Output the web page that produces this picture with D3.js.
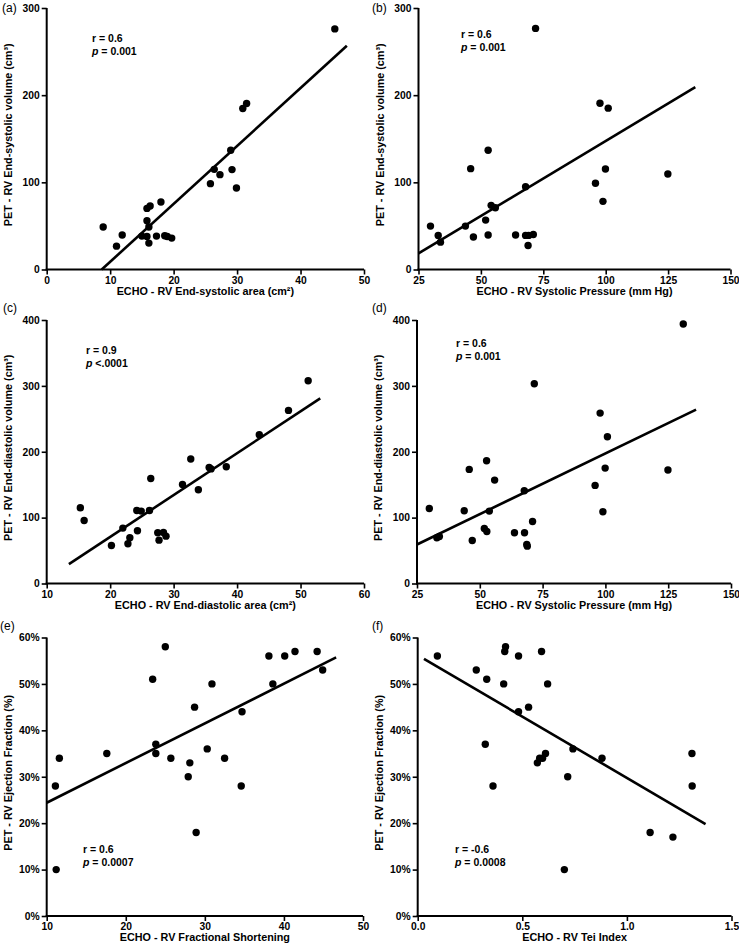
<!DOCTYPE html>
<html>
<head>
<meta charset="utf-8">
<script src="https://cdn.jsdelivr.net/npm/d3@7"></script>
<style>
  html, body { margin: 0; padding: 0; background: #fff; }
  svg { display: block; font-family: "Liberation Sans", Arial, Helvetica, sans-serif; }
</style>
</head>
<body>
<svg id="chart" width="739" height="947"></svg>
<script>
// ---------- DATA ----------
// (a) ECHO RV end-systolic area vs PET RV end-systolic volume
const aX = [45.4, 8.9, 11.0, 11.9, 15.0, 15.8, 15.8, 16.3, 15.8, 16.1, 16.1, 17.3, 18.0, 18.6, 19.0, 19.7, 25.8, 26.4, 27.3, 29.0, 29.2, 29.9, 30.9, 31.5];
const aY = [276, 48.7, 26.8, 39.5, 38.3, 37.9, 70.1, 72.8, 55.9, 48.7, 30.3, 38.3, 77.4, 38.7, 37.9, 36.0, 98.5, 114.9, 108.8, 136.8, 114.6, 93.5, 184.7, 190.4];
const aFit = [[8.67, 0], [47.3, 256.7]];

// (b) ECHO RV systolic pressure vs PET RV end-systolic volume
const bX = [29.8, 32.9, 33.8, 43.8, 45.9, 47.0, 51.9, 52.9, 52.9, 54.1, 55.8, 63.9, 67.9, 67.9, 69.1, 68.9, 71.0, 71.9, 95.9, 97.7, 98.9, 99.9, 101.0, 124.9];
const bY = [49.8, 39.1, 31.4, 49.8, 115.7, 37.2, 56.7, 136.8, 39.5, 73.6, 70.9, 39.5, 95.0, 39.1, 39.1, 27.6, 40.2, 276.6, 98.9, 190.8, 78.2, 115.3, 185.1, 109.6];
const bFit = [[25, 18.4], [135.9, 209.2]];

// (c) ECHO RV end-diastolic area vs PET RV end-diastolic volume
const cX = [15.3, 15.9, 20.2, 22.0, 22.8, 23.1, 24.2, 24.3, 24.9, 26.2, 26.4, 27.5, 27.7, 28.4, 28.8, 31.4, 32.7, 33.9, 35.6, 35.9, 38.3, 43.5, 48.1, 51.2];
const cY = [114.9, 95.7, 57.7, 84.1, 60.3, 69.4, 110.9, 80.0, 109.9, 110.9, 159.5, 77.0, 65.8, 77.5, 71.9, 150.4, 188.9, 142.3, 176.2, 174.0, 177.2, 225.8, 262.8, 307.8];
const cFit = [[13.5, 29.4], [53.1, 281]];

// (d) ECHO RV systolic pressure vs PET RV end-diastolic volume
const dX = [29.9, 32.9, 33.9, 43.8, 45.8, 47.0, 51.8, 52.8, 52.7, 53.8, 55.9, 63.8, 67.7, 67.8, 68.7, 68.9, 71.0, 71.7, 95.9, 97.9, 99.0, 99.9, 100.8, 124.9, 131.0];
const dY = [113.9, 69.4, 71.4, 110.4, 173.2, 65.3, 83.5, 79.0, 186.3, 109.9, 157.0, 77.0, 140.8, 77.0, 59.2, 56.7, 94.2, 303.3, 148.9, 258.7, 108.9, 175.2, 222.8, 172.2, 393.9];
const dFit = [[25, 59.2], [136.1, 264]];

// (e) ECHO RV fractional shortening vs PET RV ejection fraction (%)
const eX = [11.1, 11.6, 11.2, 17.6, 23.4, 23.8, 23.8, 25.0, 25.7, 27.9, 28.1, 28.7, 28.9, 30.3, 30.9, 32.5, 34.7, 34.6, 38.1, 38.6, 40.1, 41.4, 44.2, 44.9];
const eY = [28, 34, 10, 35, 51, 37, 35, 58, 34, 30, 33, 45, 18, 36, 50, 34, 44, 28, 56, 50, 56, 57, 57, 53];
const eFit = [[10, 24.4], [46.6, 55.7]];

// (f) ECHO RV Tei index vs PET RV ejection fraction (%)
const fX = [0.094, 0.280, 0.330, 0.323, 0.360, 0.411, 0.416, 0.420, 0.482, 0.482, 0.530, 0.572, 0.583, 0.597, 0.592, 0.611, 0.621, 0.717, 0.701, 0.742, 0.881, 1.111, 1.220, 1.311, 1.312];
const fY = [56, 53, 51, 37, 28, 50, 57, 58, 56, 44, 45, 33, 34, 34, 57, 35, 50, 30, 10, 36, 34, 18, 17, 35, 28];
const fFit = [[0.03, 55.4], [1.376, 19.8]];

// Tick values
const xTicksA = [0, 10, 20, 30, 40, 50];
const yTicksA = [0, 100, 200, 300];
const xTicksB = [25, 50, 75, 100, 125, 150];
const yTicksB = [0, 100, 200, 300];
const xTicksC = [10, 20, 30, 40, 50, 60];
const yTicksC = [0, 100, 200, 300, 400];
const xTicksD = [25, 50, 75, 100, 125, 150];
const yTicksD = [0, 100, 200, 300, 400];
const xTicksE = [10, 20, 30, 40, 50];
const yTicksE = [0, 10, 20, 30, 40, 50, 60];
const xTicksF = [0, 0.5, 1.0, 1.5];
const yTicksF = [0, 10, 20, 30, 40, 50, 60];

// Text
const panelLabels = ["(a)", "(b)", "(c)", "(d)", "(e)", "(f)"];
const xTitles = [
  "ECHO - RV End-systolic area (cm\u00B2)",
  "ECHO - RV Systolic Pressure (mm Hg)",
  "ECHO - RV End-diastolic area (cm\u00B2)",
  "ECHO - RV Systolic Pressure (mm Hg)",
  "ECHO - RV Fractional Shortening",
  "ECHO - RV Tei Index"
];
const yTitles = [
  "PET - RV End-systolic volume (cm\u00B3)",
  "PET - RV End-systolic volume (cm\u00B3)",
  "PET - RV End-diastolic volume (cm\u00B3)",
  "PET - RV End-diastolic volume (cm\u00B3)",
  "PET - RV Ejection Fraction (%)",
  "PET - RV Ejection Fraction (%)"
];
const rTexts = ["r = 0.6", "r = 0.6", "r = 0.9", "r = 0.6", "r = 0.6", "r = -0.6"];
const pTexts = ["= 0.001", "= 0.001", "<.0001", "= 0.001", "= 0.0007", "= 0.0008"];

// ---------- LAYOUT ----------
const panels = [
  { xs: aX, ys: aY, fit: aFit, xd: [0, 50], yd: [0, 300], xt: xTicksA, yt: yTicksA, xf: d3.format("d"), yf: d3.format("d"),
    L: 46.7, R: 364, T: 8, B: 269.5, lab: [2, 12], ann: [92, 42] },
  { xs: bX, ys: bY, fit: bFit, xd: [25, 150], yd: [0, 300], xt: xTicksB, yt: yTicksB, xf: d3.format("d"), yf: d3.format("d"),
    L: 418.5, R: 730.5, T: 8, B: 269.5, lab: [372, 12], ann: [461, 38] },
  { xs: cX, ys: cY, fit: cFit, xd: [10, 60], yd: [0, 400], xt: xTicksC, yt: yTicksC, xf: d3.format("d"), yf: d3.format("d"),
    L: 46.7, R: 364, T: 320, B: 583.5, lab: [3, 312], ann: [86, 353.5] },
  { xs: dX, ys: dY, fit: dFit, xd: [25, 150], yd: [0, 400], xt: xTicksD, yt: yTicksD, xf: d3.format("d"), yf: d3.format("d"),
    L: 417, R: 731, T: 320, B: 583.5, lab: [372, 312], ann: [456, 347] },
  { xs: eX, ys: eY, fit: eFit, xd: [10, 50], yd: [0, 60], xt: xTicksE, yt: yTicksE, xf: d3.format("d"), yf: v => v + "%",
    L: 46.7, R: 363, T: 637.5, B: 916, lab: [0, 630], ann: [83, 853] },
  { xs: fX, ys: fY, fit: fFit, xd: [0, 1.5], yd: [0, 60], xt: xTicksF, yt: yTicksF, xf: d3.format(".1f"), yf: v => v + "%",
    L: 417.7, R: 731.5, T: 637.5, B: 916, lab: [372, 630], ann: [455, 853] }
];

const svg = d3.select("#chart");

panels.forEach((p, i) => {
  const x = d3.scaleLinear().domain(p.xd).range([p.L, p.R]);
  const y = d3.scaleLinear().domain(p.yd).range([p.B, p.T]);
  const g = svg.append("g");

  // axes
  const xAxis = d3.axisBottom(x).tickValues(p.xt).tickFormat(p.xf).tickSize(5).tickSizeOuter(0).tickPadding(2);
  const yAxis = d3.axisLeft(y).tickValues(p.yt).tickFormat(p.yf).tickSize(5).tickSizeOuter(0).tickPadding(2);

  const gx = g.append("g").attr("transform", `translate(0,${p.B})`).call(xAxis);
  const gy = g.append("g").attr("transform", `translate(${p.L},0)`).call(yAxis);
  [gx, gy].forEach(ax => {
    ax.select(".domain").attr("stroke", "#000").attr("stroke-width", 2);
    ax.selectAll(".tick line").attr("stroke", "#000").attr("stroke-width", 1.6);
    ax.selectAll(".tick text").attr("fill", "#000").attr("font-size", 10.3).attr("font-weight", "bold")
      .attr("font-family", "'Liberation Sans', Arial, sans-serif");
  });
  gy.select(".domain").attr("d", `M0,${p.B + 1}V${p.T}`);
  gx.select(".domain").attr("d", `M${p.L - 1},0H${p.R}`);

  // regression line
  g.append("line")
    .attr("x1", x(p.fit[0][0])).attr("y1", y(p.fit[0][1]))
    .attr("x2", x(p.fit[1][0])).attr("y2", y(p.fit[1][1]))
    .attr("stroke", "#000").attr("stroke-width", 2.6);

  // points
  g.selectAll("circle.pt").data(p.xs.map((v, k) => [v, p.ys[k]])).enter()
    .append("circle").attr("class", "pt")
    .attr("cx", d => x(d[0])).attr("cy", d => y(d[1])).attr("r", 3.7).attr("fill", "#000");

  // axis titles
  g.append("text")
    .attr("x", (p.L + p.R) / 2).attr("y", p.B + 25)
    .attr("text-anchor", "middle").attr("font-size", 10.8).attr("font-weight", "bold")
    .text(xTitles[i]);
  g.append("text")
    .attr("transform", `translate(${p.L - 35},${(p.T + p.B) / 2 - 4}) rotate(-90)`)
    .attr("text-anchor", "middle").attr("font-size", 10.8).attr("font-weight", "bold")
    .text(yTitles[i]);

  // panel label
  g.append("text").attr("x", p.lab[0]).attr("y", p.lab[1])
    .attr("font-size", 12).text(panelLabels[i]);

  // annotation
  g.append("text").attr("x", p.ann[0]).attr("y", p.ann[1])
    .attr("font-size", 10.5).attr("font-weight", "bold").text(rTexts[i]);
  const pt = g.append("text").attr("x", p.ann[0]).attr("y", p.ann[1] + 13)
    .attr("font-size", 10.5).attr("font-weight", "bold");
  pt.append("tspan").attr("font-style", "italic").text("p");
  pt.append("tspan").text(" " + pTexts[i]);
});
</script>
</body>
</html>
